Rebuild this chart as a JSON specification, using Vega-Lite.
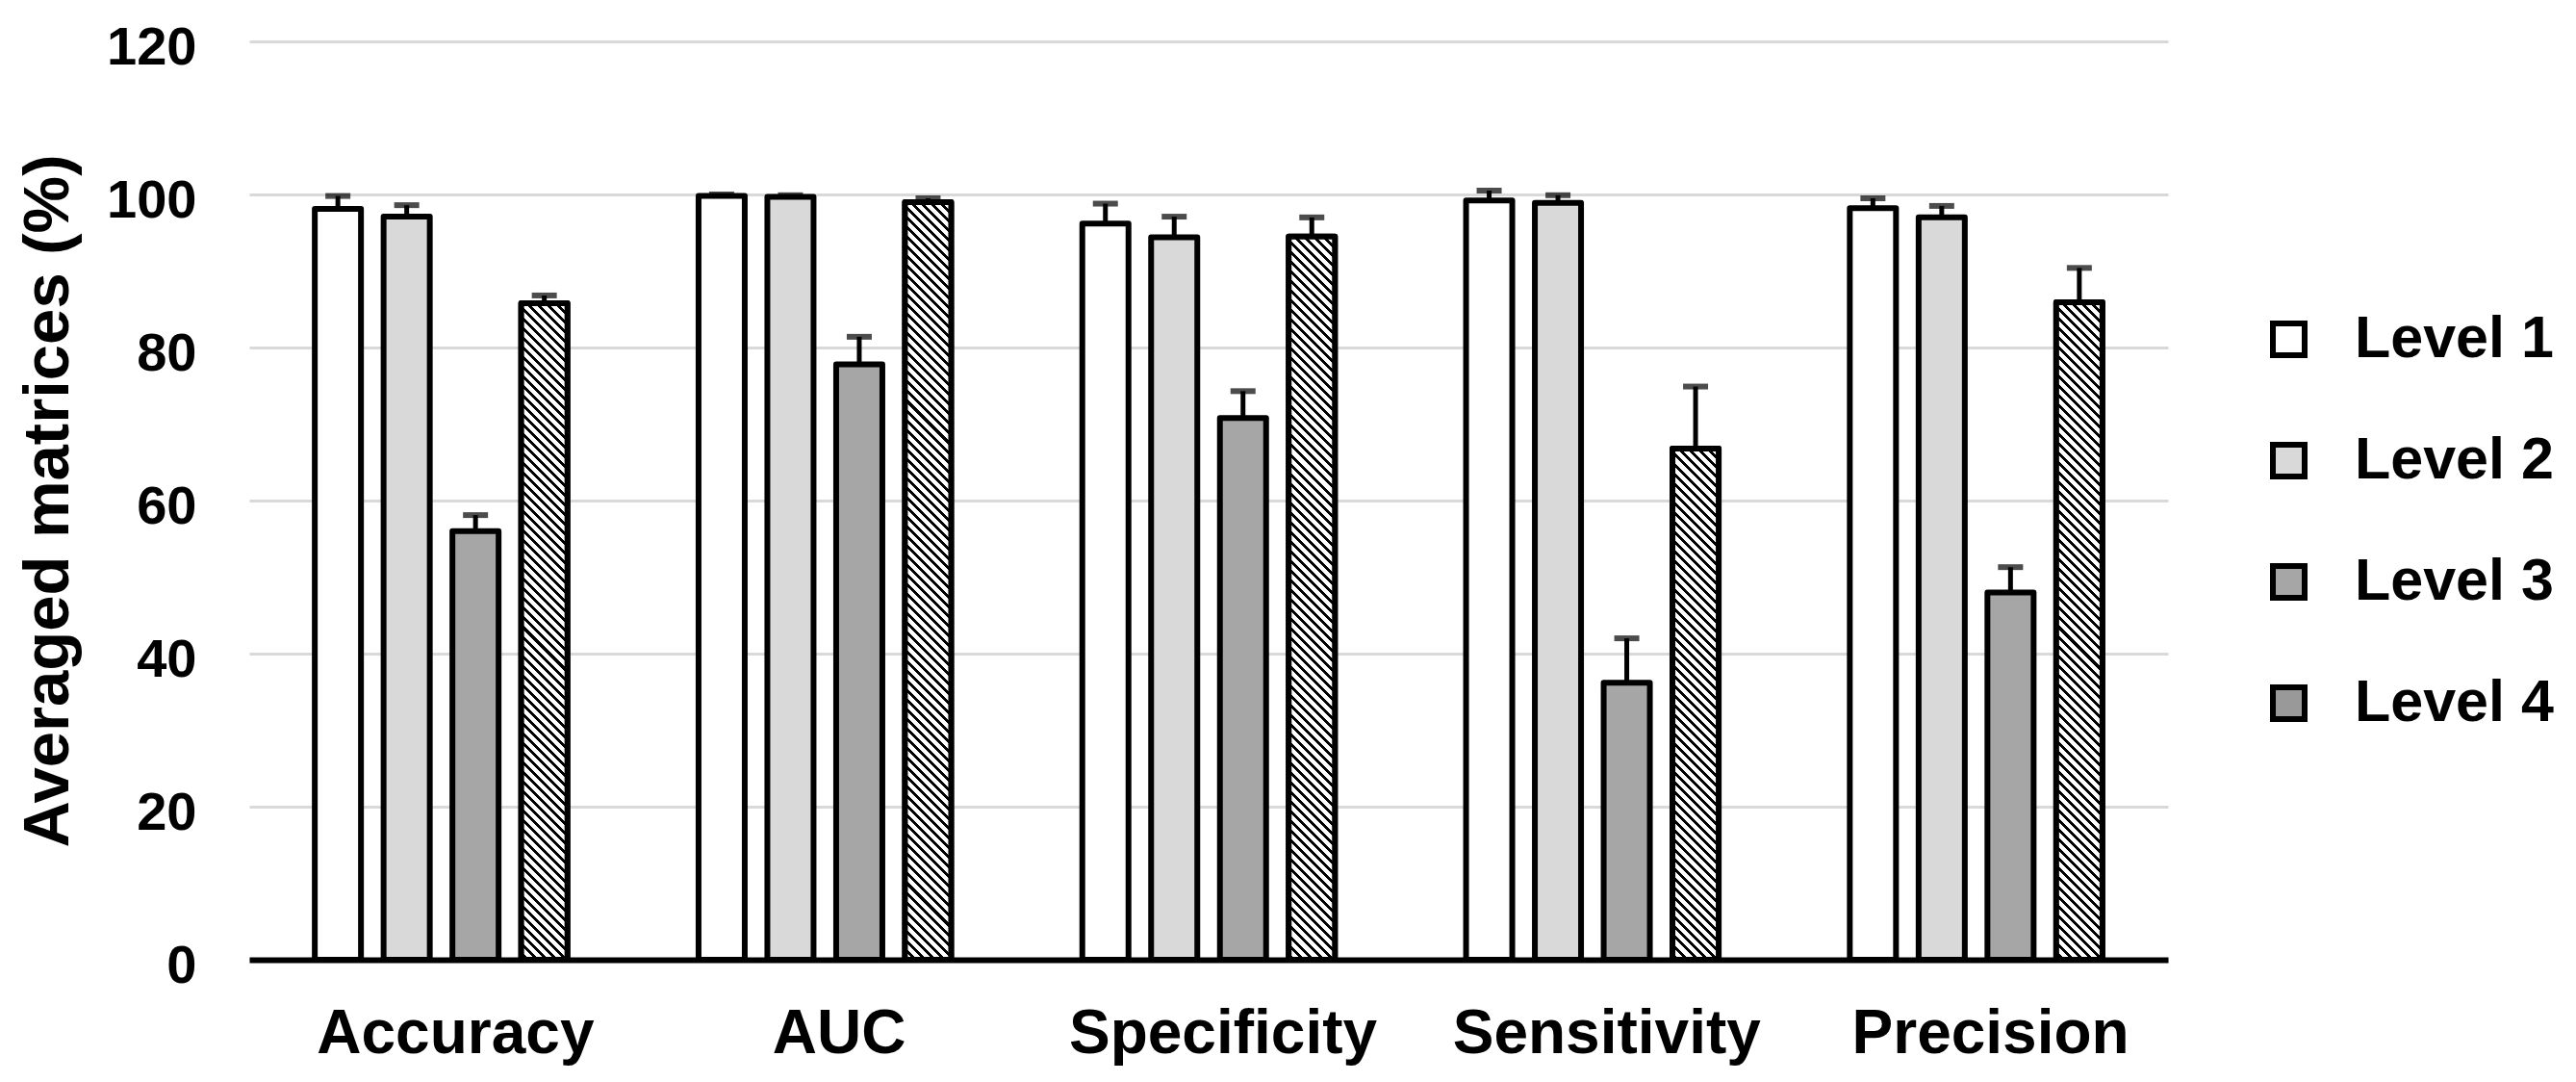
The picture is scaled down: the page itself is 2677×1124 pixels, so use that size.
{
"$schema":"https://vega.github.io/schema/vega-lite/v6.json",
"width":1994,"height":954,
"autosize":{"type":"none"},
"padding":{"left":259,"top":43,"right":424,"bottom":127},
"background":"white",
"config":{"view":{"stroke":null},"font":"Liberation Sans"},
"data":{"values":[
{"metric":"Accuracy","level":"Level 1","value":98.1,"upper":99.8},
{"metric":"Accuracy","level":"Level 2","value":97.1,"upper":98.6},
{"metric":"Accuracy","level":"Level 3","value":56.0,"upper":58.1},
{"metric":"Accuracy","level":"Level 4","value":85.8,"upper":86.8},
{"metric":"AUC","level":"Level 1","value":99.8,"upper":100.0},
{"metric":"AUC","level":"Level 2","value":99.7,"upper":99.9},
{"metric":"AUC","level":"Level 3","value":77.8,"upper":81.4},
{"metric":"AUC","level":"Level 4","value":99.0,"upper":99.5},
{"metric":"Specificity","level":"Level 1","value":96.2,"upper":98.8},
{"metric":"Specificity","level":"Level 2","value":94.4,"upper":97.1},
{"metric":"Specificity","level":"Level 3","value":70.8,"upper":74.3},
{"metric":"Specificity","level":"Level 4","value":94.5,"upper":97.0},
{"metric":"Sensitivity","level":"Level 1","value":99.2,"upper":100.5},
{"metric":"Sensitivity","level":"Level 2","value":98.9,"upper":99.9},
{"metric":"Sensitivity","level":"Level 3","value":36.2,"upper":42.0},
{"metric":"Sensitivity","level":"Level 4","value":66.8,"upper":74.9},
{"metric":"Precision","level":"Level 1","value":98.2,"upper":99.5},
{"metric":"Precision","level":"Level 2","value":97.0,"upper":98.5},
{"metric":"Precision","level":"Level 3","value":48.0,"upper":51.3},
{"metric":"Precision","level":"Level 4","value":85.9,"upper":90.4}
]},
"encoding":{
"x":{"field":"metric","type":"nominal","sort":["Accuracy","AUC","Specificity","Sensitivity","Precision"],"scale":{"paddingInner":0,"paddingOuter":0},"axis":{"title":null,"labelAngle":0,"labelLimit":0,"ticks":false,"domain":true,"domainColor":"black","domainWidth":6,"labelFont":"Liberation Sans","labelFontSize":64,"labelFontWeight":"bold","labelColor":"black","labelPadding":45,"labelOffset":15}},
"xOffset":{"field":"level","type":"nominal","sort":["Level 1","Level 2","Level 3","Level 4"],"scale":{"paddingInner":0.3287,"paddingOuter":0.953}},
"y":{"field":"value","type":"quantitative","stack":null,"scale":{"domain":[0,120],"nice":false,"zero":true},"axis":{"title":"Averaged matrices (%)","values":[0,20,40,60,80,100,120],"domain":false,"ticks":false,"labelFont":"Liberation Sans","labelFontSize":56,"labelFontWeight":"bold","labelColor":"black","labelPadding":55,"labelOffset":6,"gridColor":"#d9d9d9","gridWidth":3,"titleFont":"Liberation Sans","titleFontSize":67,"titleFontWeight":"bold","titleColor":"black","titlePadding":26}}
},
"layer":[
{"mark":{"type":"bar","strokeWidth":6,"strokeJoin":"round"},
"encoding":{
"fill":{"field":"level","type":"nominal","scale":{"domain":["Level 1","Level 2","Level 3","Level 4"],"range":["#ffffff","#d9d9d9","#a6a6a6","#999999"]},
"legend":{"orient":"none","legendX":2089,"legendY":279,"title":null,"symbolType":"square","symbolSize":1089,"symbolStrokeWidth":6,"symbolOpacity":1,"labelFont":"Liberation Sans","labelFontSize":61,"labelFontWeight":"bold","labelColor":"black","labelLimit":0,"labelOffset":38,"rowPadding":64,"padding":0}},
"stroke":{"field":"level","type":"nominal","scale":{"domain":["Level 1","Level 2","Level 3","Level 4"],"range":["black","black","black","black"]},
"legend":{"orient":"none","legendX":2089,"legendY":279,"title":null,"symbolType":"square","symbolSize":1089,"symbolStrokeWidth":6,"symbolOpacity":1,"labelFont":"Liberation Sans","labelFontSize":61,"labelFontWeight":"bold","labelColor":"black","labelLimit":0,"labelOffset":38,"rowPadding":64,"padding":0}}
}},
{"transform":[{"filter":"datum.level === 'Level 4'"}],
"mark":{"type":"bar","clip":true,"y2Offset":954,"strokeWidth":0,"fill":{"gradient":"linear","x1":1,"y1":0,"x2":0.947287,"y2":1.047663,"stops":[
{"offset":0,"color":"#000"},{"offset":0.004,"color":"#000"},{"offset":0.004,"color":"#fff"},{"offset":0.01,"color":"#fff"},
{"offset":0.01,"color":"#000"},{"offset":0.014,"color":"#000"},{"offset":0.014,"color":"#fff"},{"offset":0.02,"color":"#fff"},
{"offset":0.02,"color":"#000"},{"offset":0.024,"color":"#000"},{"offset":0.024,"color":"#fff"},{"offset":0.03,"color":"#fff"},
{"offset":0.03,"color":"#000"},{"offset":0.034,"color":"#000"},{"offset":0.034,"color":"#fff"},{"offset":0.04,"color":"#fff"},
{"offset":0.04,"color":"#000"},{"offset":0.044,"color":"#000"},{"offset":0.044,"color":"#fff"},{"offset":0.05,"color":"#fff"},
{"offset":0.05,"color":"#000"},{"offset":0.054,"color":"#000"},{"offset":0.054,"color":"#fff"},{"offset":0.06,"color":"#fff"},
{"offset":0.06,"color":"#000"},{"offset":0.064,"color":"#000"},{"offset":0.064,"color":"#fff"},{"offset":0.07,"color":"#fff"},
{"offset":0.07,"color":"#000"},{"offset":0.074,"color":"#000"},{"offset":0.074,"color":"#fff"},{"offset":0.08,"color":"#fff"},
{"offset":0.08,"color":"#000"},{"offset":0.084,"color":"#000"},{"offset":0.084,"color":"#fff"},{"offset":0.09,"color":"#fff"},
{"offset":0.09,"color":"#000"},{"offset":0.094,"color":"#000"},{"offset":0.094,"color":"#fff"},{"offset":0.1,"color":"#fff"},
{"offset":0.1,"color":"#000"},{"offset":0.104,"color":"#000"},{"offset":0.104,"color":"#fff"},{"offset":0.11,"color":"#fff"},
{"offset":0.11,"color":"#000"},{"offset":0.114,"color":"#000"},{"offset":0.114,"color":"#fff"},{"offset":0.12,"color":"#fff"},
{"offset":0.12,"color":"#000"},{"offset":0.124,"color":"#000"},{"offset":0.124,"color":"#fff"},{"offset":0.13,"color":"#fff"},
{"offset":0.13,"color":"#000"},{"offset":0.134,"color":"#000"},{"offset":0.134,"color":"#fff"},{"offset":0.14,"color":"#fff"},
{"offset":0.14,"color":"#000"},{"offset":0.144,"color":"#000"},{"offset":0.144,"color":"#fff"},{"offset":0.15,"color":"#fff"},
{"offset":0.15,"color":"#000"},{"offset":0.154,"color":"#000"},{"offset":0.154,"color":"#fff"},{"offset":0.16,"color":"#fff"},
{"offset":0.16,"color":"#000"},{"offset":0.164,"color":"#000"},{"offset":0.164,"color":"#fff"},{"offset":0.17,"color":"#fff"},
{"offset":0.17,"color":"#000"},{"offset":0.174,"color":"#000"},{"offset":0.174,"color":"#fff"},{"offset":0.18,"color":"#fff"},
{"offset":0.18,"color":"#000"},{"offset":0.184,"color":"#000"},{"offset":0.184,"color":"#fff"},{"offset":0.19,"color":"#fff"},
{"offset":0.19,"color":"#000"},{"offset":0.194,"color":"#000"},{"offset":0.194,"color":"#fff"},{"offset":0.2,"color":"#fff"},
{"offset":0.2,"color":"#000"},{"offset":0.204,"color":"#000"},{"offset":0.204,"color":"#fff"},{"offset":0.21,"color":"#fff"},
{"offset":0.21,"color":"#000"},{"offset":0.214,"color":"#000"},{"offset":0.214,"color":"#fff"},{"offset":0.22,"color":"#fff"},
{"offset":0.22,"color":"#000"},{"offset":0.224,"color":"#000"},{"offset":0.224,"color":"#fff"},{"offset":0.23,"color":"#fff"},
{"offset":0.23,"color":"#000"},{"offset":0.234,"color":"#000"},{"offset":0.234,"color":"#fff"},{"offset":0.24,"color":"#fff"},
{"offset":0.24,"color":"#000"},{"offset":0.244,"color":"#000"},{"offset":0.244,"color":"#fff"},{"offset":0.25,"color":"#fff"},
{"offset":0.25,"color":"#000"},{"offset":0.254,"color":"#000"},{"offset":0.254,"color":"#fff"},{"offset":0.26,"color":"#fff"},
{"offset":0.26,"color":"#000"},{"offset":0.264,"color":"#000"},{"offset":0.264,"color":"#fff"},{"offset":0.27,"color":"#fff"},
{"offset":0.27,"color":"#000"},{"offset":0.274,"color":"#000"},{"offset":0.274,"color":"#fff"},{"offset":0.28,"color":"#fff"},
{"offset":0.28,"color":"#000"},{"offset":0.284,"color":"#000"},{"offset":0.284,"color":"#fff"},{"offset":0.29,"color":"#fff"},
{"offset":0.29,"color":"#000"},{"offset":0.294,"color":"#000"},{"offset":0.294,"color":"#fff"},{"offset":0.3,"color":"#fff"},
{"offset":0.3,"color":"#000"},{"offset":0.304,"color":"#000"},{"offset":0.304,"color":"#fff"},{"offset":0.31,"color":"#fff"},
{"offset":0.31,"color":"#000"},{"offset":0.314,"color":"#000"},{"offset":0.314,"color":"#fff"},{"offset":0.32,"color":"#fff"},
{"offset":0.32,"color":"#000"},{"offset":0.324,"color":"#000"},{"offset":0.324,"color":"#fff"},{"offset":0.33,"color":"#fff"},
{"offset":0.33,"color":"#000"},{"offset":0.334,"color":"#000"},{"offset":0.334,"color":"#fff"},{"offset":0.34,"color":"#fff"},
{"offset":0.34,"color":"#000"},{"offset":0.344,"color":"#000"},{"offset":0.344,"color":"#fff"},{"offset":0.35,"color":"#fff"},
{"offset":0.35,"color":"#000"},{"offset":0.354,"color":"#000"},{"offset":0.354,"color":"#fff"},{"offset":0.36,"color":"#fff"},
{"offset":0.36,"color":"#000"},{"offset":0.364,"color":"#000"},{"offset":0.364,"color":"#fff"},{"offset":0.37,"color":"#fff"},
{"offset":0.37,"color":"#000"},{"offset":0.374,"color":"#000"},{"offset":0.374,"color":"#fff"},{"offset":0.38,"color":"#fff"},
{"offset":0.38,"color":"#000"},{"offset":0.384,"color":"#000"},{"offset":0.384,"color":"#fff"},{"offset":0.39,"color":"#fff"},
{"offset":0.39,"color":"#000"},{"offset":0.394,"color":"#000"},{"offset":0.394,"color":"#fff"},{"offset":0.4,"color":"#fff"},
{"offset":0.4,"color":"#000"},{"offset":0.404,"color":"#000"},{"offset":0.404,"color":"#fff"},{"offset":0.41,"color":"#fff"},
{"offset":0.41,"color":"#000"},{"offset":0.414,"color":"#000"},{"offset":0.414,"color":"#fff"},{"offset":0.42,"color":"#fff"},
{"offset":0.42,"color":"#000"},{"offset":0.424,"color":"#000"},{"offset":0.424,"color":"#fff"},{"offset":0.43,"color":"#fff"},
{"offset":0.43,"color":"#000"},{"offset":0.434,"color":"#000"},{"offset":0.434,"color":"#fff"},{"offset":0.44,"color":"#fff"},
{"offset":0.44,"color":"#000"},{"offset":0.444,"color":"#000"},{"offset":0.444,"color":"#fff"},{"offset":0.45,"color":"#fff"},
{"offset":0.45,"color":"#000"},{"offset":0.454,"color":"#000"},{"offset":0.454,"color":"#fff"},{"offset":0.46,"color":"#fff"},
{"offset":0.46,"color":"#000"},{"offset":0.464,"color":"#000"},{"offset":0.464,"color":"#fff"},{"offset":0.47,"color":"#fff"},
{"offset":0.47,"color":"#000"},{"offset":0.474,"color":"#000"},{"offset":0.474,"color":"#fff"},{"offset":0.48,"color":"#fff"},
{"offset":0.48,"color":"#000"},{"offset":0.484,"color":"#000"},{"offset":0.484,"color":"#fff"},{"offset":0.49,"color":"#fff"},
{"offset":0.49,"color":"#000"},{"offset":0.494,"color":"#000"},{"offset":0.494,"color":"#fff"},{"offset":0.5,"color":"#fff"},
{"offset":0.5,"color":"#000"},{"offset":0.504,"color":"#000"},{"offset":0.504,"color":"#fff"},{"offset":0.51,"color":"#fff"},
{"offset":0.51,"color":"#000"},{"offset":0.514,"color":"#000"},{"offset":0.514,"color":"#fff"},{"offset":0.52,"color":"#fff"},
{"offset":0.52,"color":"#000"},{"offset":0.524,"color":"#000"},{"offset":0.524,"color":"#fff"},{"offset":0.53,"color":"#fff"},
{"offset":0.53,"color":"#000"},{"offset":0.534,"color":"#000"},{"offset":0.534,"color":"#fff"},{"offset":0.54,"color":"#fff"},
{"offset":0.54,"color":"#000"},{"offset":0.544,"color":"#000"},{"offset":0.544,"color":"#fff"},{"offset":0.55,"color":"#fff"},
{"offset":0.55,"color":"#000"},{"offset":0.554,"color":"#000"},{"offset":0.554,"color":"#fff"},{"offset":0.56,"color":"#fff"},
{"offset":0.56,"color":"#000"},{"offset":0.564,"color":"#000"},{"offset":0.564,"color":"#fff"},{"offset":0.57,"color":"#fff"},
{"offset":0.57,"color":"#000"},{"offset":0.574,"color":"#000"},{"offset":0.574,"color":"#fff"},{"offset":0.58,"color":"#fff"},
{"offset":0.58,"color":"#000"},{"offset":0.584,"color":"#000"},{"offset":0.584,"color":"#fff"},{"offset":0.59,"color":"#fff"},
{"offset":0.59,"color":"#000"},{"offset":0.594,"color":"#000"},{"offset":0.594,"color":"#fff"},{"offset":0.6,"color":"#fff"},
{"offset":0.6,"color":"#000"},{"offset":0.604,"color":"#000"},{"offset":0.604,"color":"#fff"},{"offset":0.61,"color":"#fff"},
{"offset":0.61,"color":"#000"},{"offset":0.614,"color":"#000"},{"offset":0.614,"color":"#fff"},{"offset":0.62,"color":"#fff"},
{"offset":0.62,"color":"#000"},{"offset":0.624,"color":"#000"},{"offset":0.624,"color":"#fff"},{"offset":0.63,"color":"#fff"},
{"offset":0.63,"color":"#000"},{"offset":0.634,"color":"#000"},{"offset":0.634,"color":"#fff"},{"offset":0.64,"color":"#fff"},
{"offset":0.64,"color":"#000"},{"offset":0.644,"color":"#000"},{"offset":0.644,"color":"#fff"},{"offset":0.65,"color":"#fff"},
{"offset":0.65,"color":"#000"},{"offset":0.654,"color":"#000"},{"offset":0.654,"color":"#fff"},{"offset":0.66,"color":"#fff"},
{"offset":0.66,"color":"#000"},{"offset":0.664,"color":"#000"},{"offset":0.664,"color":"#fff"},{"offset":0.67,"color":"#fff"},
{"offset":0.67,"color":"#000"},{"offset":0.674,"color":"#000"},{"offset":0.674,"color":"#fff"},{"offset":0.68,"color":"#fff"},
{"offset":0.68,"color":"#000"},{"offset":0.684,"color":"#000"},{"offset":0.684,"color":"#fff"},{"offset":0.69,"color":"#fff"},
{"offset":0.69,"color":"#000"},{"offset":0.694,"color":"#000"},{"offset":0.694,"color":"#fff"},{"offset":0.7,"color":"#fff"},
{"offset":0.7,"color":"#000"},{"offset":0.704,"color":"#000"},{"offset":0.704,"color":"#fff"},{"offset":0.71,"color":"#fff"},
{"offset":0.71,"color":"#000"},{"offset":0.714,"color":"#000"},{"offset":0.714,"color":"#fff"},{"offset":0.72,"color":"#fff"},
{"offset":0.72,"color":"#000"},{"offset":0.724,"color":"#000"},{"offset":0.724,"color":"#fff"},{"offset":0.73,"color":"#fff"},
{"offset":0.73,"color":"#000"},{"offset":0.734,"color":"#000"},{"offset":0.734,"color":"#fff"},{"offset":0.74,"color":"#fff"},
{"offset":0.74,"color":"#000"},{"offset":0.744,"color":"#000"},{"offset":0.744,"color":"#fff"},{"offset":0.75,"color":"#fff"},
{"offset":0.75,"color":"#000"},{"offset":0.754,"color":"#000"},{"offset":0.754,"color":"#fff"},{"offset":0.76,"color":"#fff"},
{"offset":0.76,"color":"#000"},{"offset":0.764,"color":"#000"},{"offset":0.764,"color":"#fff"},{"offset":0.77,"color":"#fff"},
{"offset":0.77,"color":"#000"},{"offset":0.774,"color":"#000"},{"offset":0.774,"color":"#fff"},{"offset":0.78,"color":"#fff"},
{"offset":0.78,"color":"#000"},{"offset":0.784,"color":"#000"},{"offset":0.784,"color":"#fff"},{"offset":0.79,"color":"#fff"},
{"offset":0.79,"color":"#000"},{"offset":0.794,"color":"#000"},{"offset":0.794,"color":"#fff"},{"offset":0.8,"color":"#fff"},
{"offset":0.8,"color":"#000"},{"offset":0.804,"color":"#000"},{"offset":0.804,"color":"#fff"},{"offset":0.81,"color":"#fff"},
{"offset":0.81,"color":"#000"},{"offset":0.814,"color":"#000"},{"offset":0.814,"color":"#fff"},{"offset":0.82,"color":"#fff"},
{"offset":0.82,"color":"#000"},{"offset":0.824,"color":"#000"},{"offset":0.824,"color":"#fff"},{"offset":0.83,"color":"#fff"},
{"offset":0.83,"color":"#000"},{"offset":0.834,"color":"#000"},{"offset":0.834,"color":"#fff"},{"offset":0.84,"color":"#fff"}
]}},
"encoding":{"y2":{"field":"value"}}},
{"transform":[{"filter":"datum.level === 'Level 4'"}],
"mark":{"type":"bar","fill":"transparent","stroke":"black","strokeWidth":6,"strokeJoin":"round"},
"encoding":{}},
{"mark":{"type":"rule","color":"black","strokeWidth":5},
"encoding":{"y2":{"field":"upper"}}},
{"mark":{"type":"tick","color":"black","size":26,"thickness":6},
"encoding":{"y":{"field":"upper","type":"quantitative"}}}
]
}
